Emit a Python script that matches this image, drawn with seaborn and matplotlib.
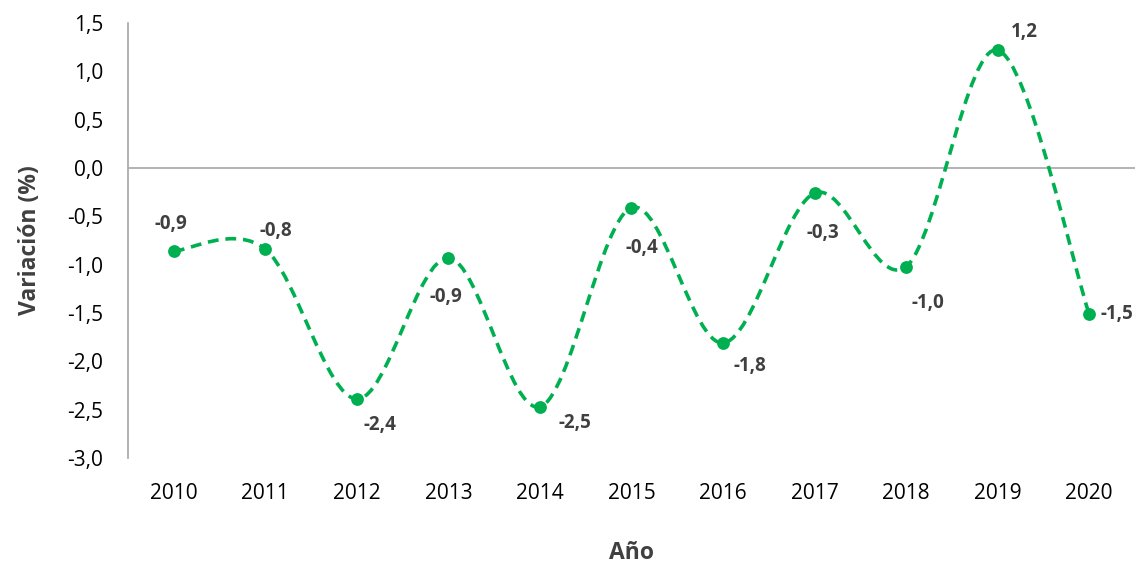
import numpy as np
import pandas as pd
import matplotlib
matplotlib.use("Agg")
import matplotlib.pyplot as plt
import seaborn as sns
from matplotlib.path import Path
from matplotlib.patches import PathPatch
from matplotlib.ticker import FuncFormatter

# --- Data ---
years = [2010, 2011, 2012, 2013, 2014, 2015, 2016, 2017, 2018, 2019, 2020]
variation = [-0.86, -0.84, -2.39, -0.93, -2.47, -0.41, -1.81, -0.26, -1.02, 1.22, -1.51]
# label offsets (pixels) so the numbers sit where the original puts them
label_offsets = [(-3, 27), (10, 18), (23, -26), (-3, -39), (35, -16), (10, -40),
                 (27, -23), (8, -40), (22, -36), (27, 18), (28, 0)]

df = pd.DataFrame({"Año": years, "Variación": variation})

green = "#00B050"
label_color = "#404040"

sns.set_style("white")
plt.rcParams["font.family"] = ["Open Sans", "DejaVu Sans"]

fig = plt.figure(figsize=(11.41, 5.70), dpi=100)
ax = fig.add_axes([0.1122, 0.1965, 0.8825, 0.7631])

# smoothed line (Catmull-Rom style Bezier through the points, like Excel)
x = np.array(df["Año"], dtype=float)
y = np.array(df["Variación"], dtype=float)
pts = np.column_stack([x, y])
verts = [pts[0]]
codes = [Path.MOVETO]
n = len(pts)
for i in range(n - 1):
    p_prev = pts[i - 1] if i > 0 else pts[i]
    p_next2 = pts[i + 2] if i + 2 < n else pts[i + 1]
    c1 = pts[i] + (pts[i + 1] - p_prev) / 6.0
    c2 = pts[i + 1] - (p_next2 - pts[i]) / 6.0
    verts += [c1, c2, pts[i + 1]]
    codes += [Path.CURVE4, Path.CURVE4, Path.CURVE4]
curve = PathPatch(Path(verts, codes), facecolor="none", edgecolor=green,
                  linewidth=2.6, linestyle=(0, (3.0, 1.9)), zorder=3)
ax.add_patch(curve)

sns.scatterplot(data=df, x="Año", y="Variación", ax=ax, color=green, s=85,
                edgecolor=green, linewidth=0, zorder=4, legend=False)

for xi, yi, (dx, dy) in zip(years, variation, label_offsets):
    ax.annotate(f"{yi:.1f}".replace(".", ","), (xi, yi), xytext=(dx, dy),
                textcoords="offset pixels", ha="center", va="center",
                fontsize=13.5, fontweight="bold", color=label_color)

ax.axhline(0, color="#A6A6A6", linewidth=1.2, zorder=1)

ax.set_xlim(2009.5, 2020.5)
ax.set_ylim(-3.0, 1.5)
ax.set_xticks(years)
ax.set_yticks(np.arange(-3.0, 1.51, 0.5))
ax.yaxis.set_major_formatter(FuncFormatter(lambda v, p: f"{v:.1f}".replace(".", ",")))

for side in ["top", "right", "bottom"]:
    ax.spines[side].set_visible(False)
ax.spines["left"].set_color("#A6A6A6")
ax.spines["left"].set_linewidth(1.2)

ax.tick_params(axis="y", length=0, pad=18, labelsize=15, labelcolor="black")
ax.tick_params(axis="x", length=0, pad=18, labelsize=15, labelcolor="black")

ax.set_xlabel("Año", fontsize=16.5, fontweight="bold", color=label_color, labelpad=27)
ax.set_ylabel("Variación (%)", fontsize=16.5, fontweight="bold", color=label_color, labelpad=18)

fig.savefig("out.png", dpi=100)
